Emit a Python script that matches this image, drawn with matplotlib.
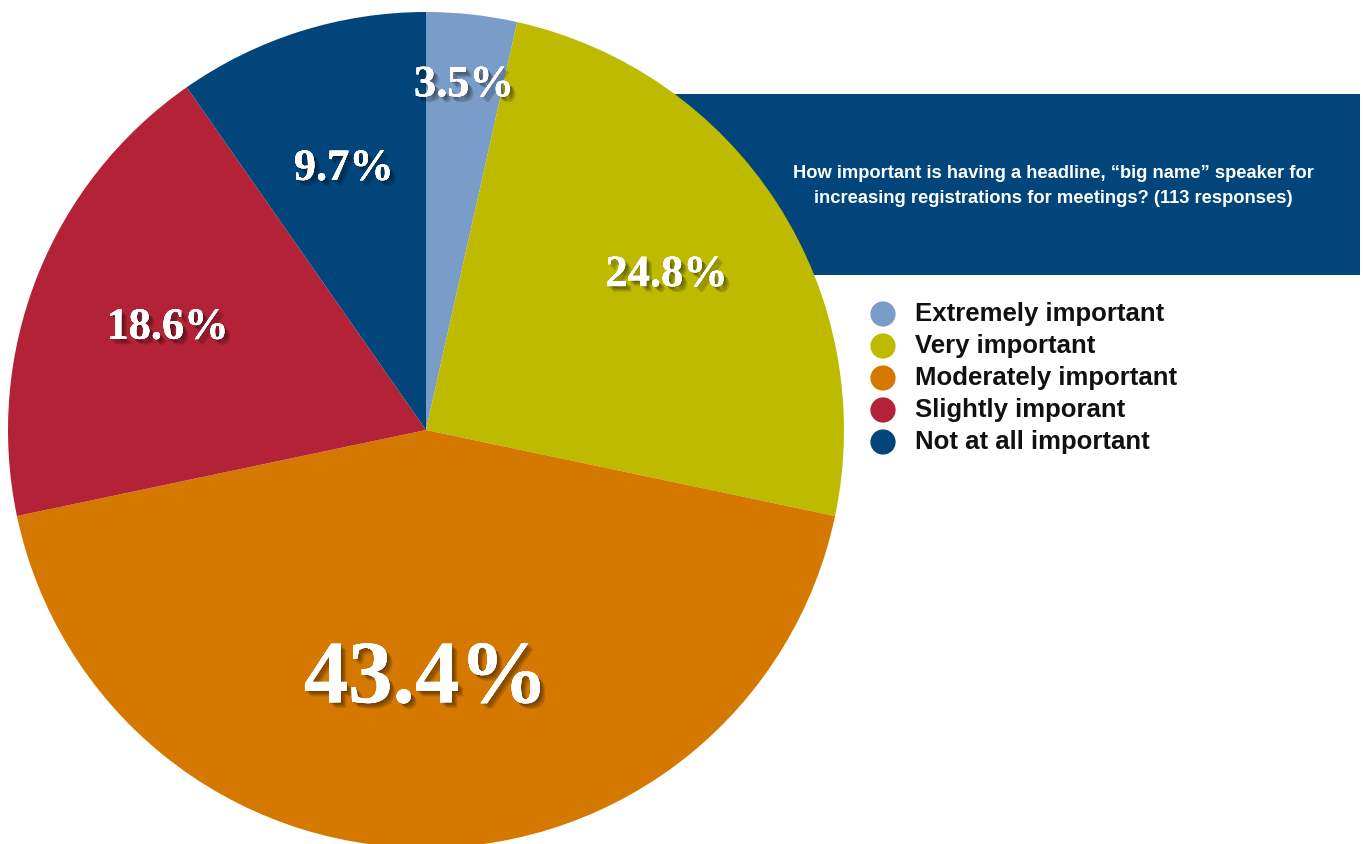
import matplotlib.pyplot as plt
import matplotlib.patheffects as pe
from matplotlib.patches import Rectangle
import numpy as np

# Respostas (113) sobre o palestrante "big name"
categorias = [
    "Extremely important",
    "Very important",
    "Moderately important",
    "Slightly imporant",
    "Not at all important",
]
percentuais = [3.5, 24.8, 43.4, 18.6, 9.7]
cores = ["#7A9CC8", "#BDBA00", "#D57800", "#B32236", "#02457A"]
titulo = ("How important is having a headline, \u201cbig name\u201d speaker for\n"
          "increasing registrations for meetings? (113 responses)")

W, H = 1366, 844
fig = plt.figure(figsize=(W / 100, H / 100), dpi=100)
ax = fig.add_axes([0, 0, 1, 1])

# Faixa azul do título (fica atrás da pizza)
ax.add_patch(Rectangle((673, H - 275), 687, 181, facecolor="#02457A",
                       edgecolor="none", zorder=0))
ax.text(1053, H - 186, titulo, color="white", fontsize=13.2, fontweight="bold",
        family="Liberation Sans", linespacing=1.6,
        ha="center", va="center", multialignment="center", zorder=1)

cx, cy, raio = 426, H - 430, 418
wedges, _ = ax.pie(percentuais, colors=cores, startangle=90, counterclock=False,
                   center=(cx, cy), radius=raio, frame=True,
                   wedgeprops=dict(linewidth=0, zorder=2))
ax.set_xlim(0, W)
ax.set_ylim(0, H)
ax.set_aspect("equal")
ax.axis("off")

# Rótulos de porcentagem com sombra suave (várias camadas)
dist = [0.83, 0.685, 0.6, 0.665, 0.655]
tamanhos = [32, 32, 64, 32, 32]
sombra = [pe.withSimplePatchShadow(offset=(o, -o), shadow_rgbFace="black", alpha=0.14)
          for o in (1.0, 2.0, 3.0, 4.0)] + [pe.Normal()]
for w, p, d, s in zip(wedges, percentuais, dist, tamanhos):
    ang = np.deg2rad((w.theta1 + w.theta2) / 2)
    x = cx + d * raio * np.cos(ang)
    y = cy + d * raio * np.sin(ang)
    ax.text(x, y, f"{p:.1f}%", color="white", fontsize=s, fontweight="bold",
            family="Liberation Serif", ha="center", va="center",
            path_effects=sombra, zorder=3)

# Legenda desenhada à mão
for i, (nome, cor) in enumerate(zip(categorias, cores)):
    y = H - (314 + 32 * i)
    ax.scatter(883, y, s=330, color=cor, edgecolors="none", zorder=3)
    ax.text(915, y, nome, fontsize=18.5, fontweight="bold", family="Liberation Sans",
            color="#111111", ha="left", va="center", zorder=3)

fig.savefig("out.png", dpi=100)
